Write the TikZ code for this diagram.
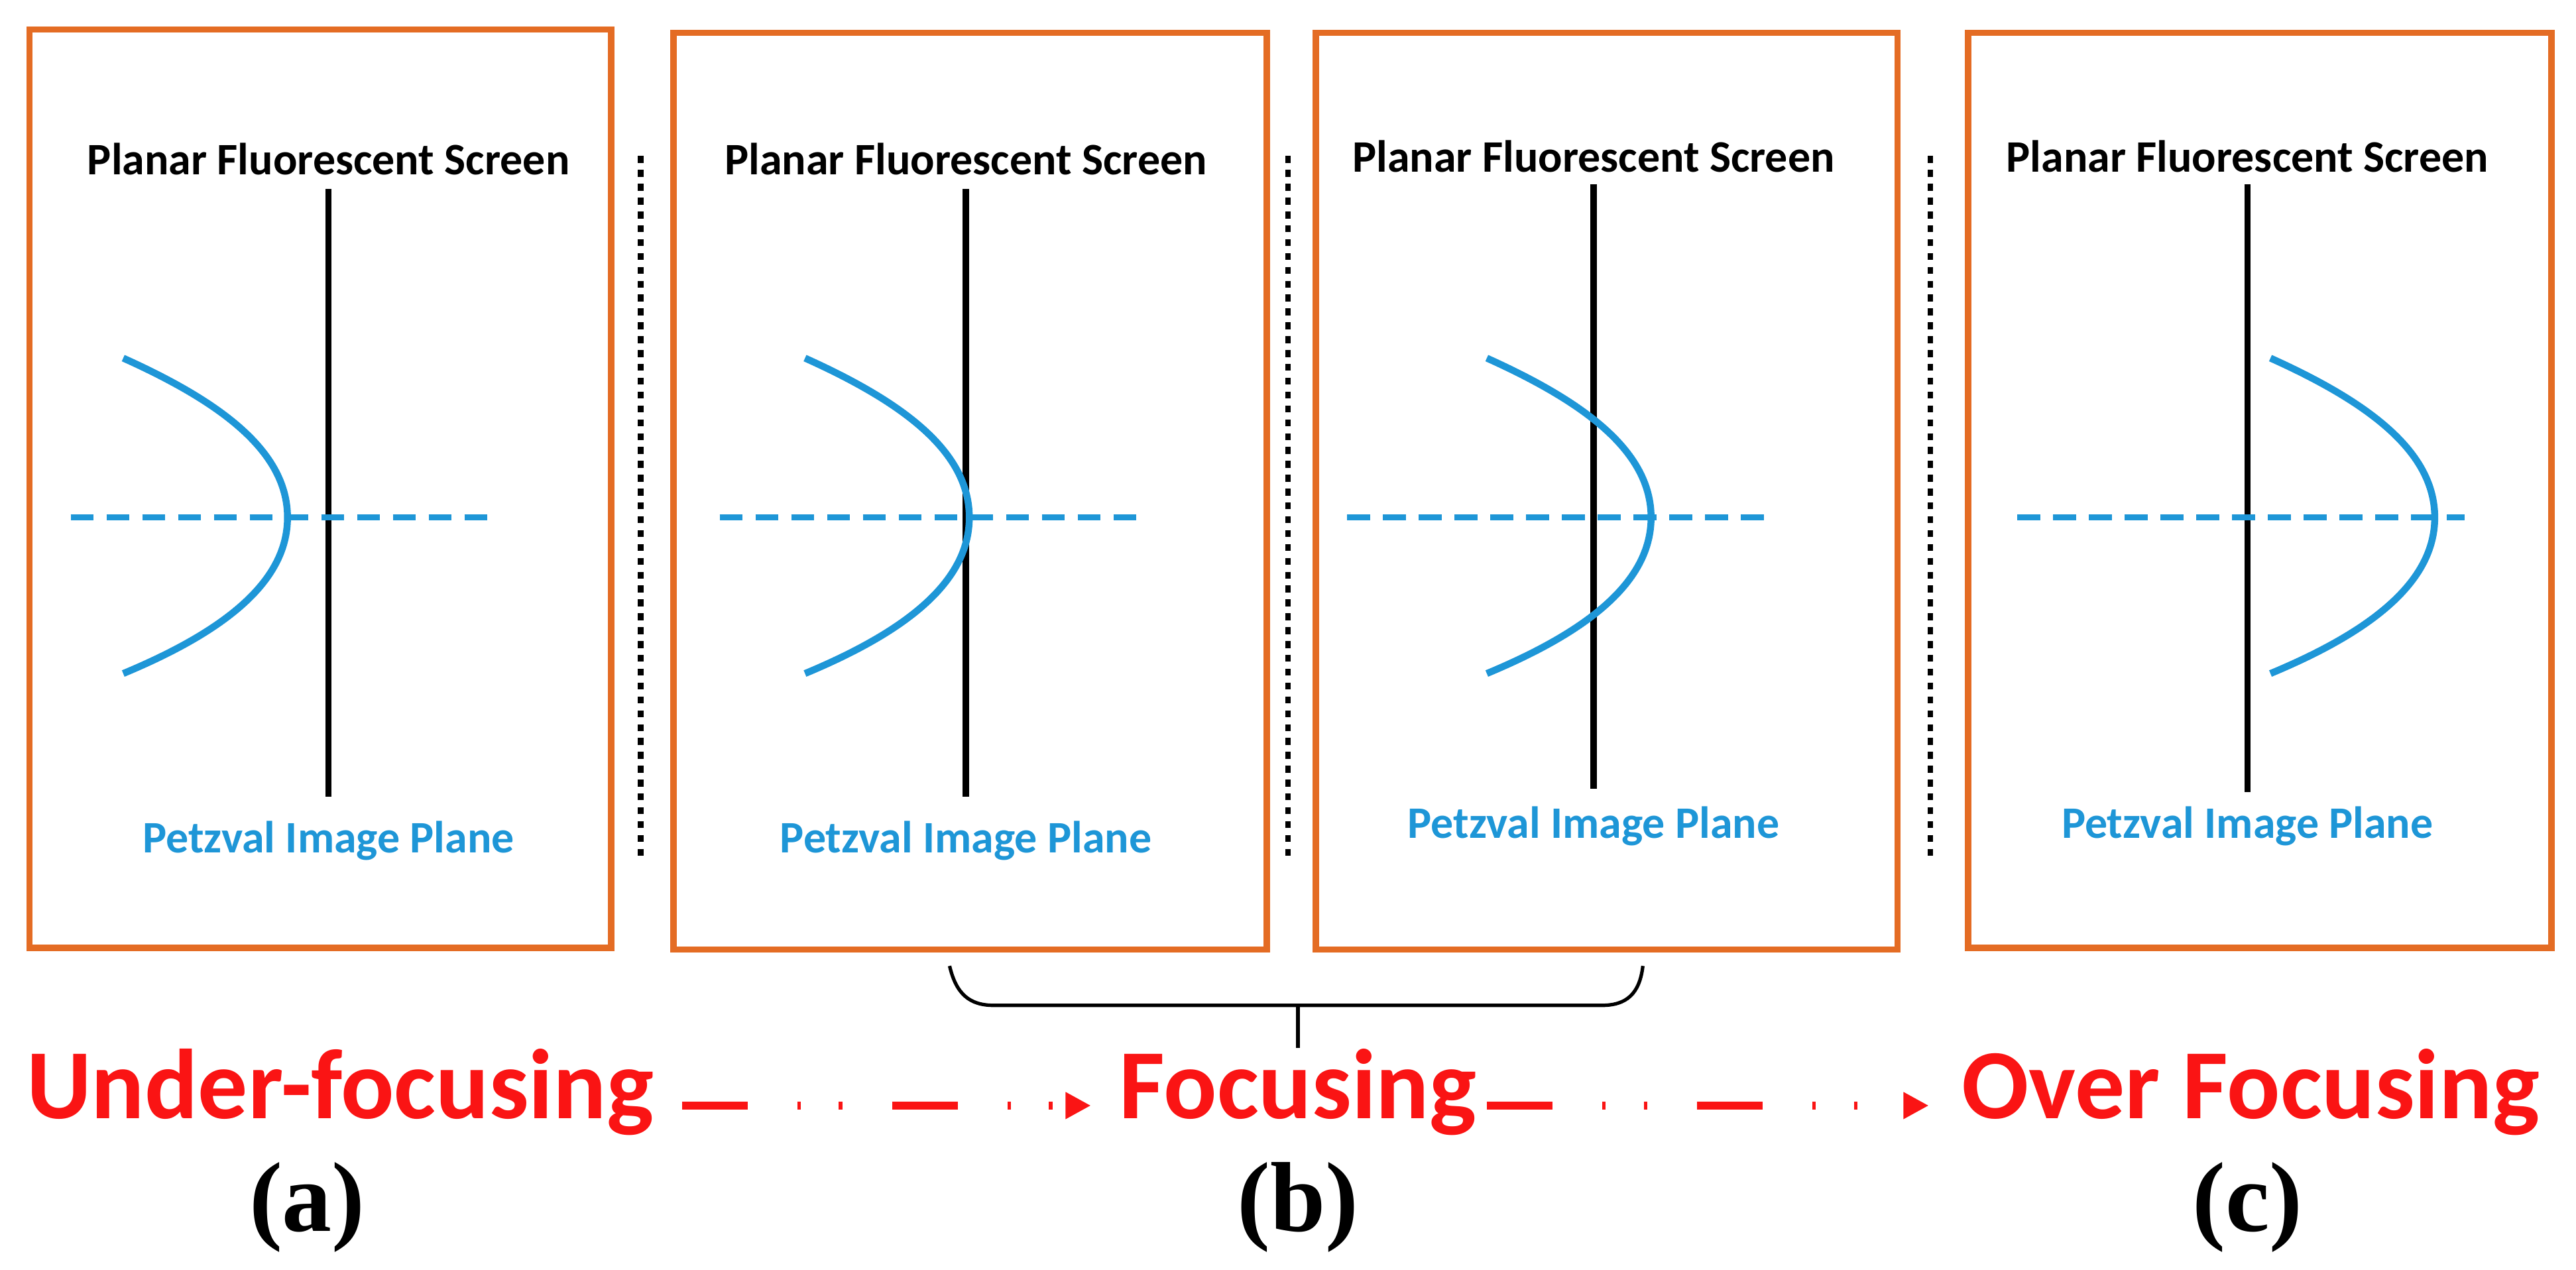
\documentclass[tikz,border=0pt]{standalone}
\usepackage{fontspec}
\setmainfont{Carlito}
\newfontfamily\tnr{Liberation Serif}
\usetikzlibrary{positioning,arrows.meta}
\definecolor{frameorange}{RGB}{228,108,36}
\definecolor{petzblue}{RGB}{30,150,215}
\definecolor{labred}{RGB}{250,20,20}
\tikzset{
  frame/.style={draw=frameorange, line width=5.5pt},
  screen/.style={draw=black, line width=5.5pt},
  petz/.style={draw=petzblue, line width=6pt},
  axis/.style={draw=petzblue, line width=5.5pt, dash pattern=on 20pt off 11pt},
  sep/.style={draw=black, line width=5pt, dash pattern=on 6pt off 6pt},
  ttl/.style={font=\bfseries\fontsize{39}{46}\selectfont},
  plab/.style={font=\bfseries\fontsize{39}{46}\selectfont, text=petzblue},
  stage/.style={font=\bfseries\fontsize{86}{100}\selectfont, text=labred},
  tag/.style={font=\tnr\bfseries\fontsize{86}{100}\selectfont},
  flow/.style={draw=labred, line width=7pt, -{Triangle[length=22pt,width=22pt]},
    dash pattern=on 57pt off 43pt on 3pt off 33pt on 3pt off 43pt}
}
\begin{document}
\begin{tikzpicture}[x=0.05cm, y=-0.05cm]
\useasboundingbox (0,0) rectangle (1568,773);
% frames
\draw[frame] (18,18) rectangle (372,577);
\draw[frame] (410,20) rectangle (771,578);
\draw[frame] (801,20) rectangle (1155,578);
\draw[frame] (1198,20) rectangle (1553,577);
% separators
\foreach \x in {390,784,1175}
  \draw[sep] (\x,95) -- (\x,522);
% panels: screen x, title y, line top, line bottom, label y, vertex x, dash start, dash end
\foreach \s/\ty/\lt/\lb/\ly/\vx/\da/\db [count=\i] in
  {200/97/115/485/512/175/43/300, 588/97/115/485/512/590/438/695,
   970/95/112/480/503/1005/820/1078, 1368/95/112/482/503/1482/1228/1500}{
  \node[ttl] (title\i) at (\s,\ty) {Planar Fluorescent Screen};
  \draw[screen] (\s,\lt) -- (\s,\lb);
  \draw[axis] (\da,315) -- (\db,315);
  \draw[petz] (\vx-100,218) .. controls (\vx-40,245) and (\vx,275) .. (\vx,315)
    .. controls (\vx,355) and (\vx-40,385) .. (\vx-100,410);
  \node[plab] (petz\i) at (\s,\ly) {Petzval Image Plane};
}
% bracket
\draw[line width=3pt] (578,588) .. controls (582,605) and (590,612) .. (605,612)
  -- (975,612) .. controls (990,612) and (998,605) .. (1000,588);
\coordinate (brk) at (790,612);
\coordinate (brkend) at (790,638);
\draw[line width=3pt] (brk) -- (brkend);
% stages
\node[stage] (under) at (207,665) {Under-focusing};
\node[stage] (focus) at (790,665) {Focusing};
\node[stage] (over) at (1370,665) {Over Focusing};
\coordinate (a1) at (415,673);
\coordinate (a2) at (664,673);
\coordinate (b1) at (905,673);
\coordinate (b2) at (1174,673);
\draw[flow] (a1) -- (a2);
\draw[flow] (b1) -- (b2);
\node[tag] (taga) at (187,735) {(a)};
\node[tag] (tagb) at (790,735) {(b)};
\node[tag] (tagc) at (1368,735) {(c)};
\end{tikzpicture}
\end{document}
